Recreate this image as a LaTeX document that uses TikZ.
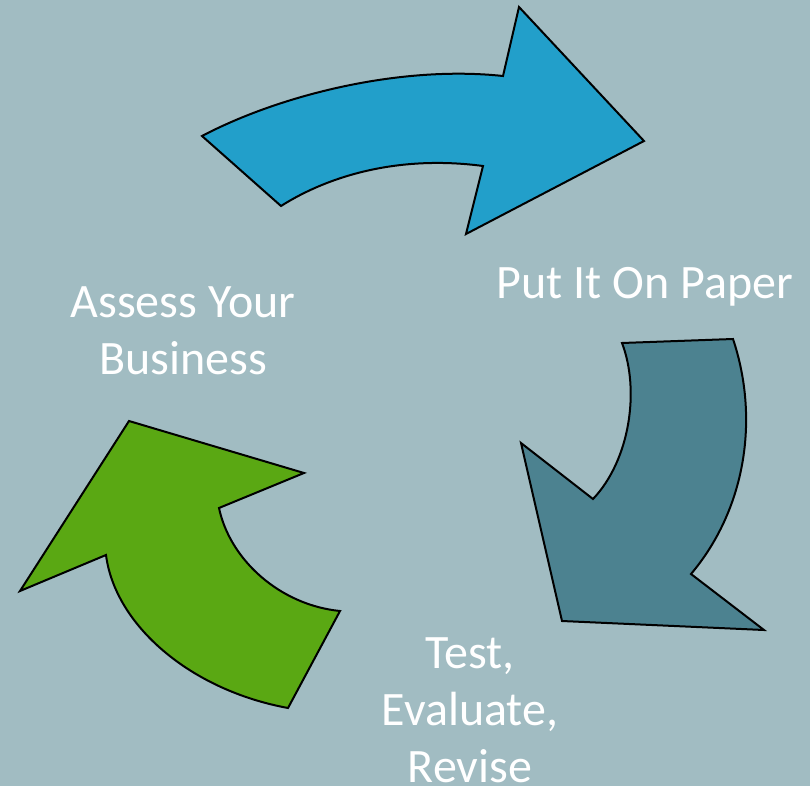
\documentclass[tikz,border=0pt]{standalone}
\usepackage{fontspec}
\setmainfont{Carlito}
\definecolor{slidebg}{HTML}{A1BCC2}
\definecolor{planblue}{HTML}{229FCA}
\definecolor{testteal}{HTML}{4C8290}
\definecolor{assessgreen}{HTML}{5AA813}
\tikzstyle{cyclearrow} = [draw=black, line width=2pt, line join=miter]
\tikzstyle{steplabel} = [text=white, align=center, inner sep=0pt,
font=\fontsize{48}{57}\selectfont]

\begin{document}
\begin{tikzpicture}[x=1pt,y=-1pt]
		% slide background
		\fill[slidebg] (0,0) rectangle (810,786);
		\useasboundingbox (0,0) rectangle (810,786);
		
		% top arrow
		\filldraw[cyclearrow, fill=planblue] (202,136)
			.. controls (280,95) and (400,65) .. (503,76)
			-- (519,7) -- (644,141) -- (466,234) -- (483,166)
			.. controls (400,155) and (330,175) .. (281,206) -- cycle;
		
		% right arrow
		\filldraw[cyclearrow, fill=testteal] (622,343) -- (733,339)
			.. controls (760,420) and (745,510) .. (691,574)
			-- (764,630) -- (562,621) -- (521,443) -- (593,499)
			.. controls (630,460) and (640,390) .. (622,343) -- cycle;
		
		% left arrow
		\filldraw[cyclearrow, fill=assessgreen] (129,421) -- (304,473) -- (219,508)
			.. controls (230,560) and (280,605) .. (340,611)
			-- (288,708)
			.. controls (190,690) and (115,625) .. (106,555)
			-- (20,591) -- cycle;
		
		% step labels
		\node [steplabel] (assess) at (183,331) {Assess Your\\Business};
		\node [steplabel] (paper) at (645,287) {Put It On Paper};
		\node [steplabel] (revise) at (470,710) {Test,\\Evaluate,\\Revise};
\end{tikzpicture}
\end{document}
